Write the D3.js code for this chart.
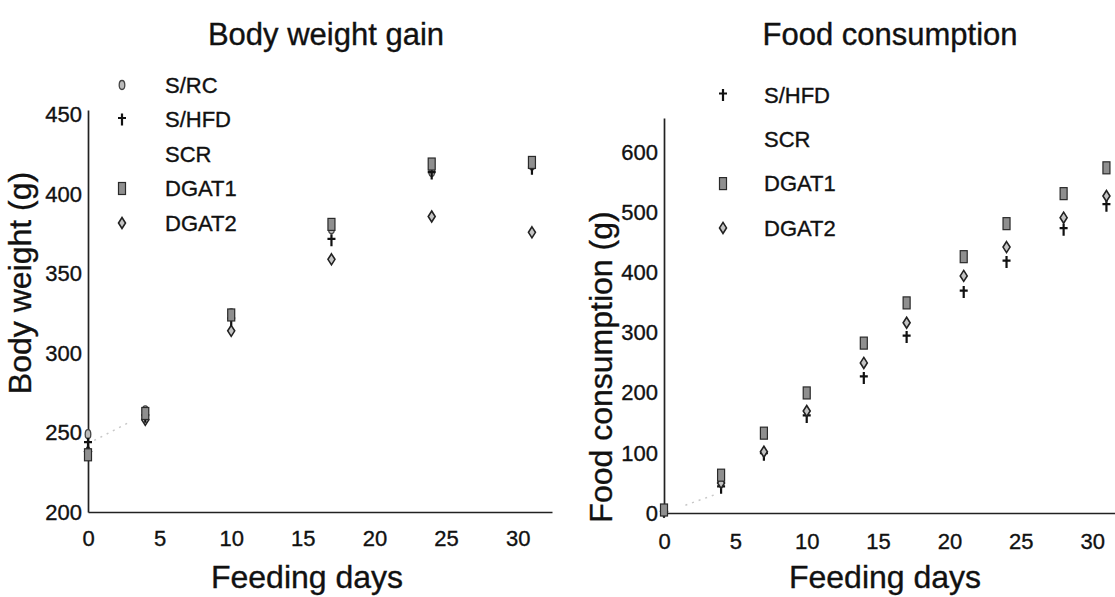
<!DOCTYPE html>
<html>
<head>
<meta charset="utf-8">
<script src="https://cdn.jsdelivr.net/npm/d3@7"></script>
<style>
  body { margin: 0; background: #fff; }
  text { font-family: 'Liberation Sans', Arial, sans-serif; fill: #111; stroke: #111; stroke-width: 0.35px; }
</style>
</head>
<body>
<div id="chart"></div>
<script>
// body weight panel
const bwDays = [0, 4, 10, 17, 24, 31];
const bwSRC = [249, 264, 325, 378, 414, 418];
const bwSHFD = [243, 260, 321, 371, 413, 416];
const bwDGAT1 = [236, 262, 324, 381, 419, 420];
const bwDGAT2 = [238, 258, 314, 359, 386, 376];
const bwSCRDays = [0, 3];
const bwSCR = [243, 257];

// food consumption panel
const fcDays = [0, 4, 7, 10, 14, 17, 21, 24, 28, 31];
const fcSHFD = [2, 42, 97, 160, 225, 293, 368, 418, 472, 512];
const fcDGAT1 = [5, 63, 133, 200, 283, 350, 427, 482, 532, 575];
const fcDGAT2 = [3, 50, 102, 170, 250, 317, 395, 443, 492, 528];
const fcSCRDays = [1.5, 3.5];
const fcSCR = [13, 30];

const dayTicks = [0, 5, 10, 15, 20, 25, 30];
const bwTicks = [200, 250, 300, 350, 400, 450];
const fcTicks = [0, 100, 200, 300, 400, 500, 600];

const bwLegend = ['S/RC', 'S/HFD', 'SCR', 'DGAT1', 'DGAT2'];
const fcLegend = ['S/HFD', 'SCR', 'DGAT1', 'DGAT2'];

const svg = d3.select('#chart')
    .append('svg')
    .attr('width', 1115)
    .attr('height', 597);

function drawMarker(g, kind, x, y) {
  if (kind === 'DGAT1') {
    g.append('rect')
        .attr('x', x - 3.5).attr('y', y - 6)
        .attr('width', 7).attr('height', 12)
        .attr('fill', '#8f8f8f')
        .attr('stroke', '#2a2a2a').attr('stroke-width', 1.2);
  } else if (kind === 'DGAT2') {
    g.append('path')
        .attr('d', 'M' + x + ',' + (y - 5.5) + 'L' + (x + 3.5) + ',' + y +
              'L' + x + ',' + (y + 5.5) + 'L' + (x - 3.5) + ',' + y + 'Z')
        .attr('fill', '#c4c4c4')
        .attr('stroke', '#222').attr('stroke-width', 1.6);
  } else if (kind === 'S/HFD') {
    g.append('path')
        .attr('d', 'M' + x + ',' + (y - 6) + 'V' + (y + 6) +
              'M' + (x - 4) + ',' + (y - 1.5) + 'H' + (x + 4))
        .attr('fill', 'none')
        .attr('stroke', '#111').attr('stroke-width', 2.2);
  } else if (kind === 'S/RC') {
    g.append('ellipse')
        .attr('cx', x).attr('cy', y)
        .attr('rx', 2.8).attr('ry', 4.5)
        .attr('fill', '#bbb')
        .attr('stroke', '#444').attr('stroke-width', 1.3);
  }
}

function drawPanel(p) {
  const x = d3.scaleLinear().domain(p.xDomain).range(p.xRange);
  const y = d3.scaleLinear().domain(p.yDomain).range(p.yRange);

  const xAxis = svg.append('g')
      .attr('transform', 'translate(0,' + p.yRange[0] + ')')
      .call(d3.axisBottom(x).tickValues(dayTicks).tickSize(0).tickPadding(p.xPad));
  const yAxis = svg.append('g')
      .attr('transform', 'translate(' + p.xRange[0] + ',0)')
      .call(d3.axisLeft(y).tickValues(p.yTicks).tickSize(0).tickPadding(6));

  [xAxis, yAxis].forEach(a => {
    a.select('.domain').attr('stroke', '#222').attr('stroke-width', 1.7);
    a.selectAll('text')
        .style('font-family', "'Liberation Sans', Arial, sans-serif")
        .style('font-size', '22px')
        .attr('fill', '#111');
  });

  // faint dotted SCR trace
  svg.append('path')
      .datum(p.scrDays.map((d, i) => [d, p.scr[i]]))
      .attr('d', d3.line().x(d => x(d[0])).y(d => y(d[1])))
      .attr('fill', 'none')
      .attr('stroke', '#c8c8c8')
      .attr('stroke-width', 1.5)
      .attr('stroke-dasharray', '2,5');

  const marks = svg.append('g');
  p.series.forEach(s => {
    p.days.forEach((d, i) => {
      drawMarker(marks, s.name, x(d), y(s.values[i]));
    });
  });

  svg.append('text')
      .attr('x', p.titleX).attr('y', 45)
      .attr('text-anchor', 'middle')
      .style('font-size', '31px')
      .text(p.title);

  svg.append('text')
      .attr('x', p.xLabelX).attr('y', 588)
      .attr('text-anchor', 'middle')
      .style('font-size', '32px')
      .text('Feeding days');

  svg.append('text')
      .attr('transform', 'translate(' + p.yLabelX + ',' + p.yLabelY + ') rotate(-90)')
      .attr('text-anchor', 'middle')
      .style('font-size', '32px')
      .text(p.yLabel);

  const legend = svg.append('g');
  p.legend.forEach((name, i) => {
    const ly = p.legendY + i * p.legendStep;
    drawMarker(legend, name, p.legendSymX, ly);
    legend.append('text')
        .attr('x', p.legendTextX).attr('y', ly)
        .attr('dy', '0.35em')
        .style('font-size', '22px')
        .text(name);
  });
}

drawPanel({
  xDomain: [0, 32.4], xRange: [88, 552],
  yDomain: [200, 453], yRange: [512, 110],
  yTicks: bwTicks, xPad: 18,
  days: bwDays,
  series: [
    {name: 'S/RC', values: bwSRC},
    {name: 'DGAT2', values: bwDGAT2},
    {name: 'S/HFD', values: bwSHFD},
    {name: 'DGAT1', values: bwDGAT1}
  ],
  scrDays: bwSCRDays, scr: bwSCR,
  title: 'Body weight gain', titleX: 326,
  xLabelX: 307,
  yLabel: 'Body weight (g)', yLabelX: 31, yLabelY: 283,
  legend: bwLegend, legendSymX: 122, legendTextX: 165, legendY: 85, legendStep: 34.5
});

drawPanel({
  xDomain: [0, 31.6], xRange: [664, 1115],
  yDomain: [0, 658], yRange: [513, 118],
  yTicks: fcTicks, xPad: 20,
  days: fcDays,
  series: [
    {name: 'S/HFD', values: fcSHFD},
    {name: 'DGAT2', values: fcDGAT2},
    {name: 'DGAT1', values: fcDGAT1}
  ],
  scrDays: fcSCRDays, scr: fcSCR,
  title: 'Food consumption', titleX: 890,
  xLabelX: 885,
  yLabel: 'Food consumption (g)', yLabelX: 612, yLabelY: 367,
  legend: fcLegend, legendSymX: 723, legendTextX: 764, legendY: 95, legendStep: 44.3
});
</script>
</body>
</html>
